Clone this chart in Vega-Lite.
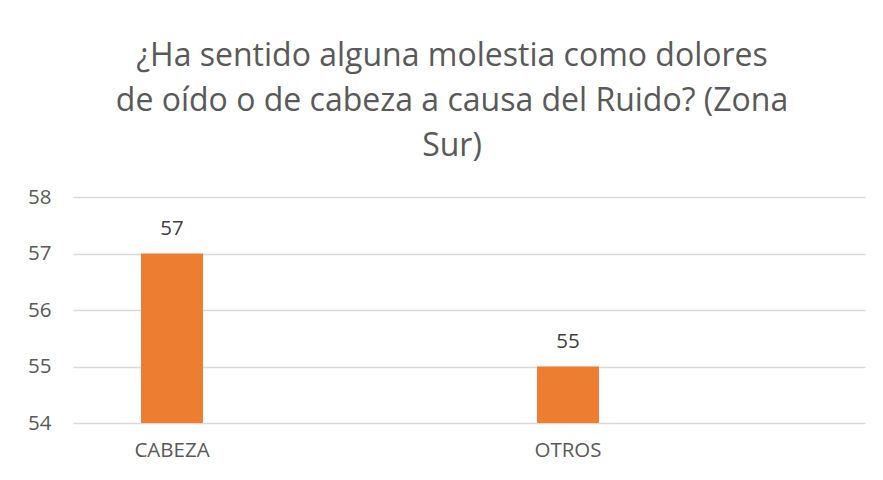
{
  "$schema": "https://vega.github.io/schema/vega-lite/v6.json",
  "width": 792,
  "height": 226,
  "autosize": {"type": "none"},
  "padding": {"left": 73, "top": 197, "right": 18, "bottom": 57},
  "background": "white",
  "title": {
    "text": ["¿Ha sentido alguna molestia como dolores", "de oído o de cabeza a causa del Ruido? (Zona", "Sur)"],
    "anchor": "middle",
    "frame": "group",
    "dx": -17,
    "offset": 24,
    "fontSize": 32,
    "font": "Open Sans",
    "fontWeight": "normal",
    "color": "#595959",
    "lineHeight": 45
  },
  "data": {
    "values": [
      {"categoria": "CABEZA", "valor": 57},
      {"categoria": "OTROS", "valor": 55}
    ]
  },
  "encoding": {
    "x": {
      "field": "categoria",
      "type": "nominal",
      "sort": null,
      "scale": {"domain": ["CABEZA", "_a", "OTROS", "_b"], "paddingInner": 0.687, "paddingOuter": 0.3435},
      "axis": {
        "title": null,
        "labelAngle": 0,
        "labelExpr": "datum.label == 'CABEZA' || datum.label == 'OTROS' ? datum.label : ''",
        "domain": false,
        "ticks": false,
        "labelFont": "Open Sans",
        "labelFontSize": 20.5,
        "labelColor": "#595959",
        "labelPadding": 17
      }
    },
    "y": {
      "field": "valor",
      "type": "quantitative",
      "scale": {"domain": [54, 58], "zero": false, "nice": false},
      "axis": {
        "title": null,
        "values": [54, 55, 56, 57, 58],
        "domain": false,
        "ticks": false,
        "grid": true,
        "gridColor": "#D9D9D9",
        "gridWidth": 1.5,
        "labelFont": "Open Sans",
        "labelFontSize": 20.5,
        "labelColor": "#595959",
        "labelPadding": 22
      }
    }
  },
  "layer": [
    {
      "mark": {"type": "bar", "color": "#ED7D31"},
      "encoding": {"y2": {"datum": 54}}
    },
    {
      "mark": {"type": "text", "baseline": "alphabetic", "dy": -19, "font": "Open Sans", "fontSize": 20.5, "color": "#404040"},
      "encoding": {"text": {"field": "valor", "type": "quantitative"}}
    }
  ],
  "config": {"view": {"stroke": null}}
}
